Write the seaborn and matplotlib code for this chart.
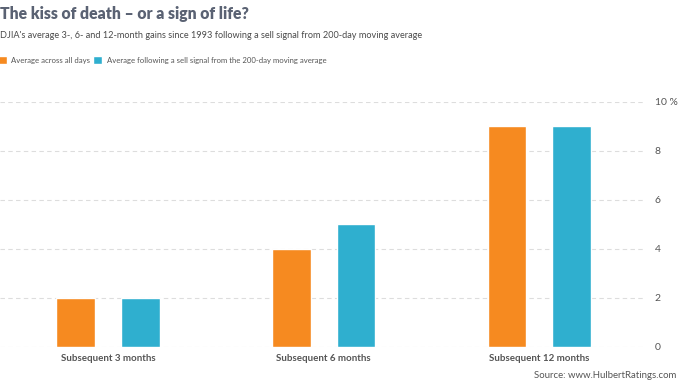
import matplotlib
matplotlib.use("Agg")
import matplotlib.pyplot as plt
import seaborn as sns
import pandas as pd
from matplotlib.patches import Patch

periods = ["Subsequent 3 months", "Subsequent 6 months", "Subsequent 12 months"]
series = ["Average across all days", "Average following a sell signal from the 200-day moving average"]
all_days = [2.0, 4.0, 9.0]
sell_signal = [2.0, 5.0, 9.0]
y_ticks = [0, 2, 4, 6, 8, 10]
y_tick_labels = ["0", "2", "4", "6", "8", "10 %"]

title = "The kiss of death \u2013 or a sign of life?"
subtitle = "DJIA's average 3-, 6- and 12-month gains since 1993 following a sell signal from 200-day moving average"
source = "Source: www.HulbertRatings.com"

ORANGE = "#F68A20"
BLUE = "#2FAFCF"

df = pd.DataFrame({
    "period": periods * 2,
    "series": [series[0]] * 3 + [series[1]] * 3,
    "value": all_days + sell_signal,
})

sns.set_theme(style="white")
plt.rcParams["font.family"] = ["Lato", "DejaVu Sans"]

fig = plt.figure(figsize=(6.8, 3.83), dpi=100)
ax = fig.add_axes([0.0, 1 - 347 / 383, 645 / 680, (347 - 101.5) / 383])

sns.barplot(data=df, x="period", y="value", hue="series", order=periods,
            hue_order=series, palette=[ORANGE, BLUE], width=0.6, gap=0.4,
            saturation=1, ax=ax, legend=False, errorbar=None)

ax.set_ylim(0, 10)
ax.set_xlim(-0.5, 2.49)
ax.set_yticks(y_ticks)
ax.set_yticklabels(y_tick_labels)
ax.yaxis.tick_right()
ax.tick_params(axis="y", length=0, pad=7, labelsize=7.5, labelcolor="#555555")
ax.tick_params(axis="x", length=0, pad=5, labelsize=7, labelcolor="#555555")
for lbl in ax.get_xticklabels():
    lbl.set_fontweight("bold")
ax.set_xlabel("")
ax.set_ylabel("")
for s in ax.spines.values():
    s.set_visible(False)
ax.grid(axis="y", color="#dddddd", linestyle=(0, (4, 3)), linewidth=0.8)
ax.set_axisbelow(True)

fig.text(0.0, 1 - 14 / 383, title, fontsize=11.3, fontweight="heavy",
         color="#5a6273", va="center", ha="left")
fig.text(0.0, 1 - 36 / 383, subtitle, fontsize=6.6, color="#4a4a4a",
         va="center", ha="left")
fig.text(676 / 680, 1 - 376 / 383, source, fontsize=6.9, color="#555555",
         va="center", ha="right")

handles = [Patch(facecolor=ORANGE), Patch(facecolor=BLUE)]
fig.legend(handles, series, loc="center left", bbox_to_anchor=(-0.004, 1 - 60 / 383),
           ncol=2, frameon=False, fontsize=5.55, handlelength=1.2, handleheight=1.3,
           handletextpad=0.6, columnspacing=0.4, labelcolor="#555555",
           borderpad=0, borderaxespad=0)

fig.savefig("out.png", dpi=100)
